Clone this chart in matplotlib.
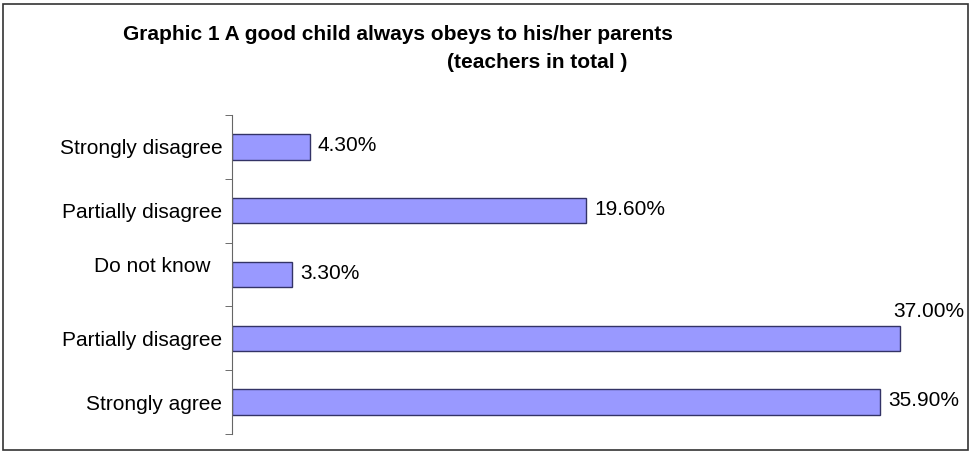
import numpy as np
import matplotlib.pyplot as plt
from matplotlib.patches import Rectangle
from matplotlib.transforms import ScaledTranslation

plt.rcParams['font.family'] = ['Liberation Sans', 'DejaVu Sans']

# data, bottom to top
categories = ["Strongly agree", "Partially disagree", "Do not know",
              "Partially disagree", "Strongly disagree"]
values = [35.9, 37.0, 3.3, 19.6, 4.3]
labels = ["35.90%", "37.00%", "3.30%", "19.60%", "4.30%"]

W, H = 971, 453
fig = plt.figure(figsize=(W / 100, H / 100), dpi=100)

# outer border
fig.patches.append(Rectangle((3 / W, 3 / H), 965 / W, 446 / H, transform=fig.transFigure,
                             fill=False, edgecolor='#333333', linewidth=1.2))

ax = fig.add_axes([232 / W, (H - 434) / H, 722 / W, 319 / H])
y = np.arange(len(categories))
ax.barh(y, values, height=0.4, color='#9999FF', edgecolor='#333366', linewidth=1)

ax.set_xlim(0, 40)
ax.set_ylim(-0.5, len(categories) - 0.5)
ax.set_xticks([])
ax.set_yticks(y)
ax.set_yticklabels(categories, fontsize=15)
ax.set_yticks(np.arange(-0.5, len(categories)), minor=True)
ax.tick_params(axis='y', which='major', length=0, pad=7)
ax.tick_params(axis='y', which='minor', length=5, direction='out', color='#555555')
for s in ['top', 'right', 'bottom']:
    ax.spines[s].set_visible(False)
ax.spines['left'].set_color('#666666')

# "Do not know" sits a bit higher and further left in the original
lbl = ax.get_yticklabels()[2]
lbl.set_transform(lbl.get_transform() + ScaledTranslation(-0.12, 0.10, fig.dpi_scale_trans))

for i, (v, lab) in enumerate(zip(values, labels)):
    if v > 36.5:
        # label sits above the bar end
        ax.annotate(lab, (v, i), xytext=(-5, 19), textcoords='offset points',
                    va='center', ha='left', fontsize=15)
    else:
        ax.annotate(lab, (v, i), xytext=(6, 1), textcoords='offset points',
                    va='center', ha='left', fontsize=15)

fig.text(398 / W, (H - 35) / H, "Graphic 1 A good child always obeys to his/her parents",
         ha='center', va='center', fontsize=15, fontweight='bold')
fig.text(537 / W, (H - 62) / H, "(teachers in total )",
         ha='center', va='center', fontsize=15, fontweight='bold')

fig.savefig('out.png', dpi=100)
